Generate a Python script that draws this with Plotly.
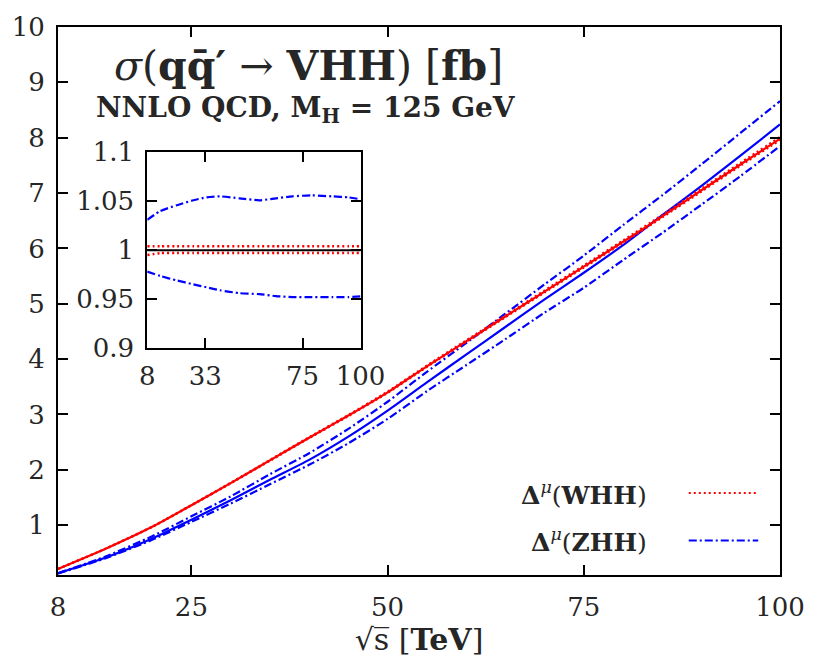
import plotly.graph_objects as go

# sqrt(s) grid in TeV
sqrt_s = [8, 14, 20, 25, 30, 35, 40, 45, 50, 55, 60, 65, 70, 75, 80, 85, 90, 95, 100]

# WHH cross section [fb]: central value and scale band
whh_central = [0.21, 0.57, 0.97, 1.36, 1.76, 2.17, 2.58, 2.98, 3.40, 3.87, 4.32, 4.77, 5.22, 5.67, 6.12, 6.58, 7.05, 7.52, 7.98]
whh_upper = [0.211, 0.572, 0.974, 1.365, 1.767, 2.179, 2.590, 2.992, 3.414, 3.885, 4.337, 4.789, 5.241, 5.693, 6.145, 6.606, 7.078, 7.550, 8.012]
whh_lower = [0.209, 0.568, 0.967, 1.356, 1.755, 2.163, 2.572, 2.971, 3.390, 3.858, 4.307, 4.756, 5.204, 5.653, 6.102, 6.560, 7.029, 7.497, 7.956]

# ZHH cross section [fb]: central value and scale band
zhh_central = [0.13, 0.41, 0.76, 1.10, 1.45, 1.82, 2.18, 2.60, 3.07, 3.58, 4.08, 4.58, 5.08, 5.56, 6.06, 6.60, 7.13, 7.68, 8.24]
zhh_upper = [0.134, 0.43, 0.80, 1.16, 1.52, 1.92, 2.30, 2.74, 3.23, 3.77, 4.29, 4.82, 5.35, 5.87, 6.42, 6.96, 7.52, 8.09, 8.66]
zhh_lower = [0.127, 0.40, 0.735, 1.06, 1.39, 1.74, 2.09, 2.48, 2.92, 3.42, 3.89, 4.36, 4.84, 5.29, 5.79, 6.28, 6.79, 7.31, 7.85]

# Ratios to the central predictions (inset)
ratio_s = [8, 13.7, 20.8, 27.9, 33.6, 39.3, 47.8, 56.4, 63.5, 70.6, 79.1, 87.7, 94.8, 100]
whh_ratio_up = [1.004, 1.004, 1.004, 1.004, 1.004, 1.004, 1.004, 1.004, 1.004, 1.004, 1.004, 1.004, 1.004, 1.004]
whh_ratio_dn = [0.995, 0.997, 0.997, 0.997, 0.997, 0.997, 0.997, 0.997, 0.997, 0.997, 0.997, 0.997, 0.997, 0.997]
zhh_ratio_up = [1.031, 1.040, 1.046, 1.051, 1.054, 1.055, 1.053, 1.051, 1.053, 1.055, 1.056, 1.055, 1.054, 1.052]
zhh_ratio_dn = [0.978, 0.9735, 0.969, 0.965, 0.962, 0.959, 0.956, 0.955, 0.953, 0.952, 0.952, 0.952, 0.952, 0.9527]
ratio_ref = [1.0] * len(ratio_s)

main_xticks = [8, 25, 50, 75, 100]
main_yticks = [1, 2, 3, 4, 5, 6, 7, 8, 9, 10]
inset_xticks = [8, 33, 75, 100]
inset_yticks = [0.9, 0.95, 1.0, 1.05, 1.1]
inset_yticktext = ["0.9", "0.95", "1", "1.05", "1.1"]

RED = "#ff0000"
BLUE = "#0000ff"
FONT = "DejaVu Serif, Liberation Serif, serif"
TXT = "#262626"
DOT = "2px,3px"
DASHDOT = "8px,3px,2px,3px"

fig = go.Figure()


def add(x, y, color, dash, xa="x", ya="y", width=2.2):
    fig.add_trace(go.Scatter(x=x, y=y, mode="lines", xaxis=xa, yaxis=ya,
                             line=dict(color=color, width=width, dash=dash, shape="spline", smoothing=0.6),
                             showlegend=False, hoverinfo="skip"))


# main panel
add(sqrt_s, zhh_upper, BLUE, DASHDOT)
add(sqrt_s, zhh_lower, BLUE, DASHDOT)
add(sqrt_s, zhh_central, BLUE, "solid")
add(sqrt_s, whh_central, RED, "solid")
add(sqrt_s, whh_upper, RED, DOT)
add(sqrt_s, whh_lower, RED, DOT)

# inset panel
add(ratio_s, zhh_ratio_up, BLUE, DASHDOT, "x2", "y2")
add(ratio_s, zhh_ratio_dn, BLUE, DASHDOT, "x2", "y2")
add(ratio_s, whh_ratio_up, RED, DOT, "x2", "y2", 2.5)
add(ratio_s, whh_ratio_dn, RED, DOT, "x2", "y2", 2.5)
add(ratio_s, ratio_ref, "#000000", "solid", "x2", "y2", 2)

axis_common = dict(showline=True, linecolor="#000000", linewidth=2, mirror="allticks",
                   ticks="inside", ticklen=10, tickwidth=1.5, tickcolor="#000000",
                   showgrid=False, zeroline=False,
                   tickfont=dict(family=FONT, size=26, color=TXT))

fig.update_layout(
    width=817, height=663,
    margin=dict(l=57, r=32, t=20, b=88),
    plot_bgcolor="white", paper_bgcolor="white",
    xaxis=dict(axis_common, range=[8, 100], tickvals=main_xticks, domain=[0, 1], anchor="y",
               ticklabelstandoff=8,
               title=dict(text="√s\u0305 [<b>TeV</b>]",
                          font=dict(family=FONT, size=30, color=TXT), standoff=4)),
    yaxis=dict(axis_common, range=[0.1, 10], tickvals=main_yticks, domain=[0, 1], anchor="x",
               ticklabelstandoff=6),
    xaxis2=dict(axis_common, range=[8, 100], tickvals=inset_xticks, domain=[0.1236, 0.419],
                anchor="y2", ticklabelstandoff=4),
    yaxis2=dict(axis_common, range=[0.9, 1.1], tickvals=inset_yticks, ticktext=inset_yticktext,
                domain=[0.4144, 0.7712], anchor="x2", ticklabelstandoff=6),
)

# title lines
fig.add_annotation(xref="paper", yref="paper", x=(310 - 57) / 728, y=(575 - 60) / 555,
                   text="<i>σ</i>(<b>qq̄′</b> → <b>VHH</b>) [<b>fb</b>]", showarrow=False,
                   font=dict(family=FONT, size=41, color=TXT), xanchor="center", yanchor="middle")
fig.add_annotation(xref="paper", yref="paper", x=(307 - 57) / 728, y=(575 - 104) / 555,
                   text="<b>NNLO QCD, M<sub>H</sub> = 125 GeV</b>", showarrow=False,
                   font=dict(family=FONT, size=28, color=TXT), xanchor="center", yanchor="middle")

# legend: label on the left, line sample on the right
legend_rows = [("<b>Δ</b><sup><i>μ</i></sup>(<b>WHH</b>)", RED, "dot", 492),
               ("<b>Δ</b><sup><i>μ</i></sup>(<b>ZHH</b>)", BLUE, "dashdot", 540)]
for label, color, dash, ypix in legend_rows:
    yp = (575 - ypix) / 555
    fig.add_annotation(xref="paper", yref="paper", x=(653 - 57) / 728, y=yp, text=label,
                       showarrow=False, xanchor="right", yanchor="middle",
                       font=dict(family=FONT, size=25, color=TXT))
    fig.add_shape(type="line", xref="paper", yref="paper",
                  x0=(693 - 57) / 728, x1=(763 - 57) / 728, y0=yp, y1=yp,
                  line=dict(color=color, width=2, dash=DOT if dash == "dot" else DASHDOT))

fig.write_html("out.html")
